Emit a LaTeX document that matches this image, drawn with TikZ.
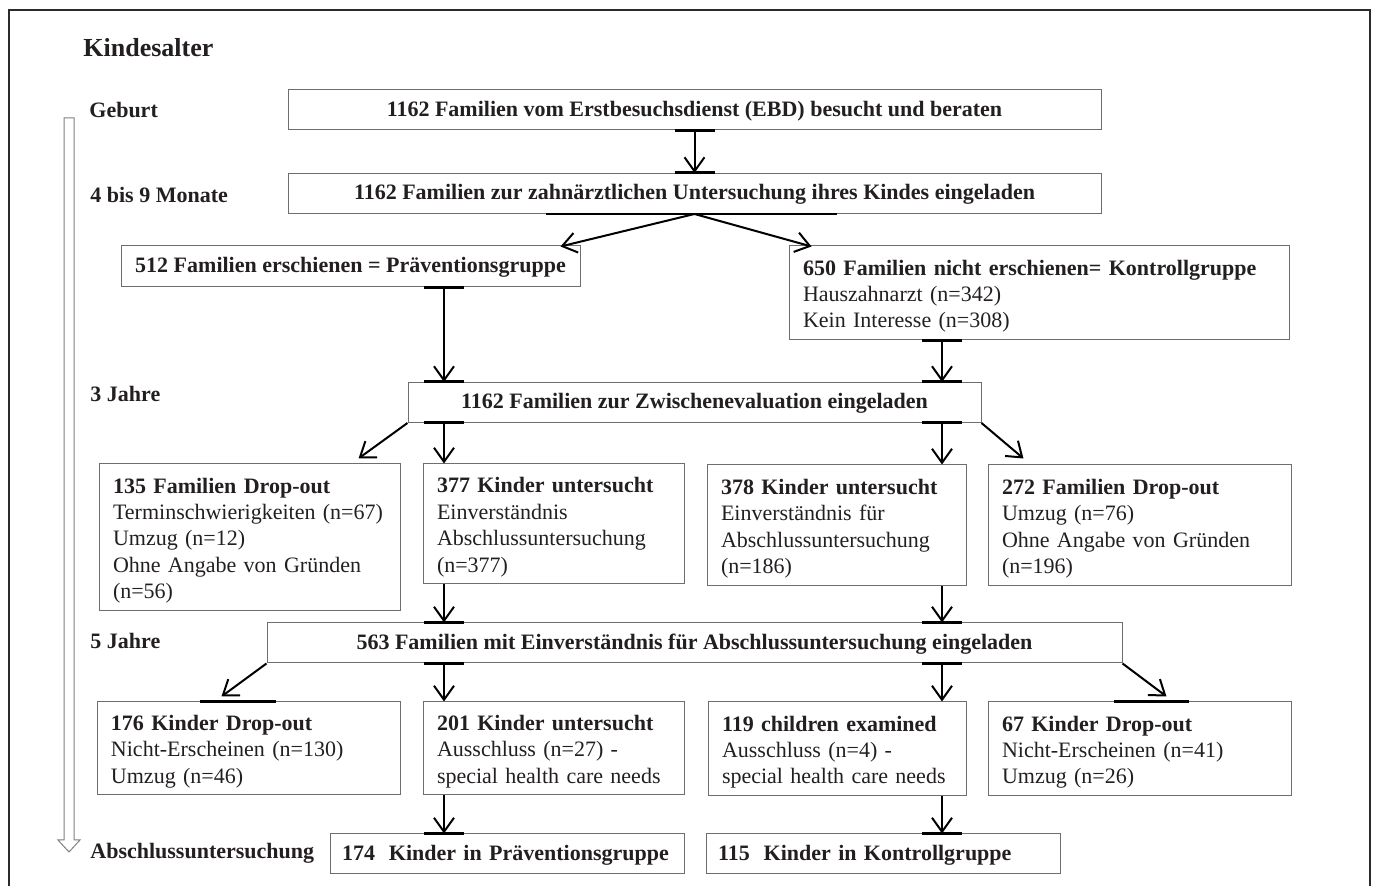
\documentclass[tikz,border=0pt]{standalone}
\usepackage{fontspec}
\setmainfont{Liberation Serif}
\usepackage{xcolor}
\usepackage{tikz}
\usetikzlibrary{arrows.meta,calc}

\definecolor{txt}{HTML}{231F20}
\definecolor{boxline}{HTML}{6E6E6E}
\definecolor{frameline}{HTML}{2B2B2B}

\tikzset{
    box/.style={draw=boxline, line width=0.5pt, text=txt, inner xsep=7pt, inner ysep=0pt,
        font=\fontsize{11}{13}\selectfont},
    headbox/.style={box, minimum height=20pt, text height=8.5pt, text depth=2.3pt,
        font=\fontsize{11}{13}\selectfont\bfseries},
    listbox/.style={box, align=left, font=\fontsize{11}{13.2}\selectfont,
        execute at begin node={\rule{0pt}{10.8pt}}},
    phase/.style={anchor=base west, inner sep=0pt, text=txt, font=\fontsize{11}{13}\selectfont\bfseries},
    arr/.style={draw=black, line width=1pt, -{Straight Barb[length=7pt,width=10pt,line width=1pt]}},
    glue/.style={draw=black, line width=1.5pt},
    timeline/.style={draw=gray, line width=0.5pt}
}

\begin{document}
\begin{tikzpicture}[x=0.5pt,y=-0.5pt]
    \useasboundingbox (0,0) rectangle (1373,886);
    \draw[frameline, line width=1.2pt] (9,886) -- (9,10) -- (1370,10) -- (1370,886);

    % Zeitachse
    \node (title) [anchor=base west, inner sep=0pt, text=txt, font=\fontsize{13}{15}\selectfont\bfseries] at (83,57) {Kindesalter};
    \node (t0) [phase] at (89,118) {Geburt};
    \node (t1) [phase] at (90,203) {4 bis 9 Monate};
    \node (t2) [phase] at (90,402) {3 Jahre};
    \node (t3) [phase] at (90,649) {5 Jahre};
    \node (t4) [phase] at (90,859) {Abschlussuntersuchung};
    \draw[timeline] (64,118) -- (74,118) -- (74,840) -- (80,840) -- (69,852) -- (58,840) -- (64,840) -- cycle;

    % Kaesten
    \node (b1) [headbox, minimum width=406.5pt] at (694.5,110) {1162 Familien vom Erstbesuchsdienst (EBD) besucht und beraten};
    \node (b2) [headbox, minimum width=406.5pt] at (694.5,193.5) {1162 Familien zur zahnärztlichen Untersuchung ihres Kindes eingeladen};
    \node (b3) [headbox, minimum width=229.5pt, minimum height=20.5pt] at (350.5,266.5) {512 Familien erschienen = Präventionsgruppe};
    \node (b4) [listbox, text width=236pt, minimum height=47pt] at (1039,293) {\textbf{650 Familien nicht erschienen= Kontrollgruppe}\\Hauszahnarzt (n=342)\\Kein Interesse (n=308)};
    \node (b5) [headbox, minimum width=286.5pt] at (694.5,402.5) {1162 Familien zur Zwischenevaluation eingeladen};

    \node (b6) [listbox, text width=136.5pt, minimum height=73.5pt] at (249.5,537.5) {\textbf{135 Familien Drop-out}\\Terminschwierigkeiten (n=67)\\Umzug (n=12)\\Ohne Angabe von Gründen\\(n=56)};
    \node (b7) [listbox, text width=116.5pt, minimum height=60pt] at (553.5,524) {\textbf{377 Kinder untersucht}\\Einverständnis\\Abschlussuntersuchung\\(n=377)};
    \node (b8) [listbox, text width=115.5pt, minimum height=60.5pt] at (836.5,525.5) {\textbf{378 Kinder untersucht}\\Einverständnis für\\Abschlussuntersuchung\\(n=186)};
    \node (b9) [listbox, text width=137.5pt, minimum height=60.5pt] at (1139.5,525.5) {\textbf{272 Familien Drop-out}\\Umzug (n=76)\\Ohne Angabe von Gründen\\(n=196)};

    \node (b10) [headbox, minimum width=427.5pt] at (694.5,643) {563 Familien mit Einverständnis für Abschlussuntersuchung eingeladen};

    \node (b11) [listbox, text width=137.5pt, minimum height=46.5pt] at (248.5,748.5) {\textbf{176 Kinder Drop-out}\\Nicht-Erscheinen (n=130)\\Umzug (n=46)};
    \node (b12) [listbox, text width=116.5pt, minimum height=46.5pt] at (553.5,748.5) {\textbf{201 Kinder untersucht}\\Ausschluss (n=27) -\\special health care needs};
    \node (b13) [listbox, text width=115pt, minimum height=47pt] at (837,749) {\textbf{119 children examined}\\Ausschluss (n=4) -\\special health care needs};
    \node (b14) [listbox, text width=137.5pt, minimum height=47pt] at (1139.5,749) {\textbf{67 Kinder Drop-out}\\Nicht-Erscheinen (n=41)\\Umzug (n=26)};

    \node (b15) [headbox, inner xsep=6pt, text width=165pt, align=left] at (507,854) {174\hspace{0.3em} Kinder in Präventionsgruppe};
    \node (b16) [headbox, inner xsep=6pt, text width=165pt, align=left] at (883,854) {115\hspace{0.3em} Kinder in Kontrollgruppe};

    % Pfeile
    \coordinate (lane1) at (444,0);
    \coordinate (lane2) at (942,0);
    \draw[arr] (b1.south) -- (b2.north);
    \draw[arr] (b2.south) -- ($(b3.north east)+(-20,1)$);
    \draw[arr] (b2.south) -- ($(b4.north west)+(23,1)$);
    \draw[arr] (b3.south -| lane1) -- (b5.north -| lane1);
    \draw[arr] (b4.south -| lane2) -- (b5.north -| lane2);
    \draw[arr] (b5.south west) -- ($(b6.north east)+(-42,-5)$);
    \draw[arr] (b5.south -| lane1) -- (b7.north -| lane1);
    \draw[arr] (b5.south -| lane2) -- (b8.north -| lane2);
    \draw[arr] (b5.south east) -- ($(b9.north west)+(36,-6)$);
    \draw[arr] (b7.south -| lane1) -- (b10.north -| lane1);
    \draw[arr] (b8.south -| lane2) -- (b10.north -| lane2);
    \draw[arr] (b10.south west) -- ($(b11.north west)+(125,-5)$);
    \draw[arr] (b10.south -| lane1) -- (b12.north -| lane1);
    \draw[arr] (b10.south -| lane2) -- (b13.north -| lane2);
    \draw[arr] (b10.south east) -- ($(b14.north west)+(179,-5)$);
    \draw[arr] (b12.south -| lane1) -- (b15.north -| lane1);
    \draw[arr] (b13.south -| lane2) -- (b16.north -| lane2);

    % Anschlusspunkte
    \draw[glue] (b1.south) ++(-20,0) -- ++(40,0) (b2.north) ++(-20,0) -- ++(40,0);
    \draw[glue] (b3.south -| lane1) ++(-20,0) -- ++(40,0) (b5.north -| lane1) ++(-20,0) -- ++(40,0);
    \draw[glue] (b4.south -| lane2) ++(-20,0) -- ++(40,0) (b5.north -| lane2) ++(-20,0) -- ++(40,0);
    \draw[glue] (b5.south -| lane1) ++(-20,0) -- ++(40,0) (b5.south -| lane2) ++(-20,0) -- ++(40,0);
    \draw[glue] (b10.north -| lane1) ++(-20,0) -- ++(40,0) (b10.north -| lane2) ++(-20,0) -- ++(40,0);
    \draw[glue] (b10.south -| lane1) ++(-20,0) -- ++(40,0) (b10.south -| lane2) ++(-20,0) -- ++(40,0);
    \draw[glue] (b15.north -| lane1) ++(-20,0) -- ++(40,0) (b16.north -| lane2) ++(-20,0) -- ++(40,0);
    \draw[glue] (b11.north west) ++(103,0) -- ++(76,0) (b14.north west) ++(126,0) -- ++(75,0);
    \draw[black, line width=0.8pt] (b2.south west) ++(258,0) -- ++(291,0);
\end{tikzpicture}
\end{document}
